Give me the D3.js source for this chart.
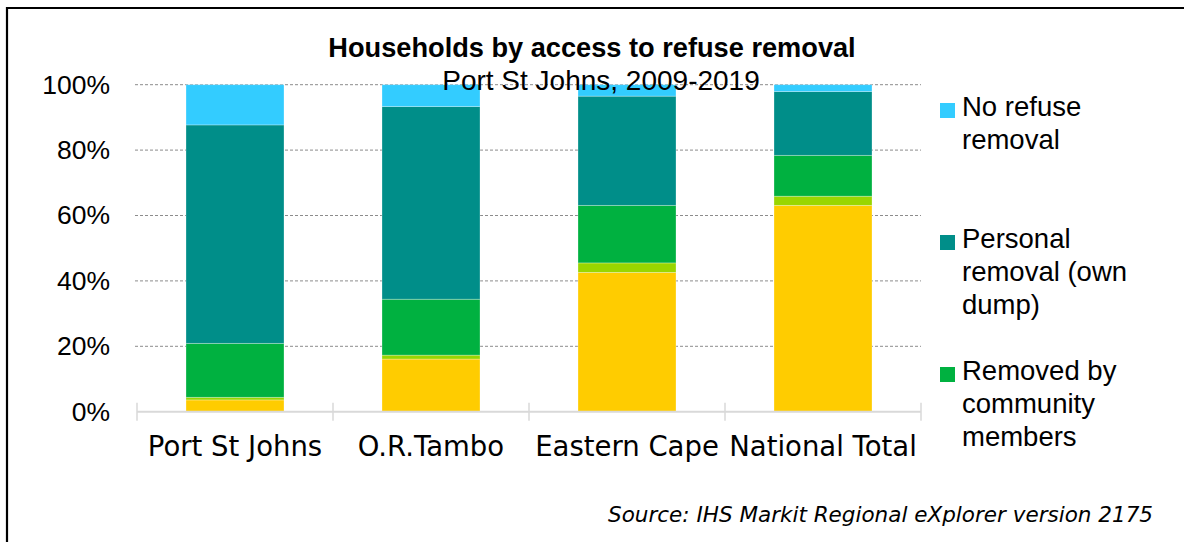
<!DOCTYPE html>
<html>
<head>
<meta charset="utf-8">
<script src="https://cdn.jsdelivr.net/npm/d3@7"></script>
<style>
  html, body { margin: 0; padding: 0; background: #fff; }
  svg { display: block; }
</style>
</head>
<body>
<svg id="chart" width="1184" height="542"></svg>
<script>
// Share of households by type of refuse removal, stacked bottom to top
const categories = ["Port St Johns", "O.R.Tambo", "Eastern Cape", "National Total"];

const seriesNames = [
  "Removed weekly by authority",
  "Removed less often than weekly by authority",
  "Removed by community members",
  "Personal removal (own dump)",
  "No refuse removal"
];

const removedWeekly     = [3.6, 16.1, 42.6, 63.1];
const removedLessOften  = [0.8,  1.2,  2.9,  2.8];
const removedCommunity  = [16.5, 17.1, 17.6, 12.5];
const personalOwnDump   = [66.8, 58.9, 33.4, 19.5];
const noRefuseRemoval   = [12.3,  6.7,  3.5,  2.1];

const yTicks = [0, 20, 40, 60, 80, 100];

const seriesColors = ["#FFCC00", "#99D600", "#00B140", "#008E89", "#33CCFF"];

// legend lists the top three series, topmost first
const legendSeries = [4, 3, 2];

const values = [removedWeekly, removedLessOften, removedCommunity, personalOwnDump, noRefuseRemoval];
const rows = categories.map((c, i) => {
  const r = { category: c };
  seriesNames.forEach((s, k) => { r[s] = values[k][i]; });
  return r;
});

const svg = d3.select("#chart");

// frame
svg.append("path")
  .attr("d", "M7,560 L7,8 L1200,8")
  .attr("fill", "none")
  .attr("stroke", "#000")
  .attr("stroke-width", 2.2);

const x = d3.scaleBand()
  .domain(categories)
  .range([137, 921])
  .paddingInner(0.5)
  .paddingOuter(0.25);

const y = d3.scaleLinear()
  .domain([0, 100])
  .range([411.7, 84.7]);

// gridlines
svg.append("g")
  .selectAll("line")
  .data(yTicks.filter(t => t > 0))
  .join("line")
  .attr("x1", 135).attr("x2", 921)
  .attr("y1", d => y(d)).attr("y2", d => y(d))
  .attr("stroke", "#8c8c8c")
  .attr("stroke-width", 1)
  .attr("stroke-dasharray", "3,2");

// y axis labels
const yAxis = d3.axisLeft(y)
  .tickValues(yTicks)
  .tickFormat(d => d + "%")
  .tickSize(0)
  .tickPadding(0);
const gy = svg.append("g").attr("transform", "translate(110,0)").call(yAxis);
gy.select(".domain").remove();
gy.selectAll("text")
  .attr("font-family", "Arial, 'Liberation Sans', sans-serif")
  .attr("font-size", 26.5)
  .attr("fill", "#000");

// stacked bars
const stack = d3.stack().keys(seriesNames);
const stacked = stack(rows);

svg.append("g")
  .selectAll("g")
  .data(stacked)
  .join("g")
  .attr("fill", (d, i) => seriesColors[i])
  .selectAll("rect")
  .data(d => d)
  .join("rect")
  .attr("x", d => x(d.data.category))
  .attr("width", x.bandwidth())
  .attr("y", d => y(d[1]))
  .attr("height", d => y(d[0]) - y(d[1]))
  .attr("stroke", "rgba(255,255,255,0.35)")
  .attr("stroke-width", 0.8);

// category axis with cross tick marks at category boundaries
const gx = svg.append("g");
gx.append("line")
  .attr("x1", 137).attr("x2", 921)
  .attr("y1", y(0)).attr("y2", y(0))
  .attr("stroke", "#d9d9d9")
  .attr("stroke-width", 2);
const boundaries = categories.map(c => x(c) - x.step() * x.paddingInner() / 2)
  .concat([x(categories[categories.length - 1]) + x.bandwidth() + x.step() * x.paddingInner() / 2]);
gx.selectAll("line.tick")
  .data(boundaries)
  .join("line")
  .attr("class", "tick")
  .attr("x1", d => d).attr("x2", d => d)
  .attr("y1", y(0) - 9).attr("y2", y(0) + 9)
  .attr("stroke", "#d9d9d9")
  .attr("stroke-width", 1.5);
gx.selectAll("text")
  .data(categories)
  .join("text")
  .attr("x", d => x(d) + x.bandwidth() / 2)
  .attr("y", 456)
  .attr("text-anchor", "middle")
  .attr("font-family", "Verdana, 'DejaVu Sans', sans-serif")
  .attr("font-size", 27.5)
  .attr("fill", "#000")
  .text(d => d);

// titles
svg.append("text")
  .attr("x", 592).attr("y", 57)
  .attr("text-anchor", "middle")
  .attr("font-family", "Arial, 'Liberation Sans', sans-serif")
  .attr("font-weight", "bold")
  .attr("font-size", 27.2)
  .attr("fill", "#000")
  .text("Households by access to refuse removal");

svg.append("text")
  .attr("x", 601).attr("y", 90)
  .attr("text-anchor", "middle")
  .attr("font-family", "Arial, 'Liberation Sans', sans-serif")
  .attr("font-size", 28)
  .attr("fill", "#000")
  .text("Port St Johns, 2009-2019");

// legend
const legend = svg.append("g").attr("transform", "translate(940,0)");
const lineH = 33;
const maxW = 175;
legendSeries.forEach((k, i) => {
  const top = 116 + i * lineH * 4;
  legend.append("rect")
    .attr("x", 0).attr("y", top - 13)
    .attr("width", 15).attr("height", 15)
    .attr("fill", seriesColors[k]);
  const t = legend.append("text")
    .attr("x", 22).attr("y", top)
    .attr("font-family", "Arial, 'Liberation Sans', sans-serif")
    .attr("font-size", 27.5)
    .attr("fill", "#000");
  // word wrap within the legend column
  const words = seriesNames[k].split(" ");
  let line = [];
  let tspan = t.append("tspan").attr("x", 22).attr("dy", 0);
  words.forEach(w => {
    line.push(w);
    tspan.text(line.join(" "));
    if (tspan.node().getComputedTextLength() > maxW && line.length > 1) {
      line.pop();
      tspan.text(line.join(" "));
      line = [w];
      tspan = t.append("tspan").attr("x", 22).attr("dy", lineH).text(w);
    }
  });
});

// source note
svg.append("text")
  .attr("x", 1153).attr("y", 522)
  .attr("text-anchor", "end")
  .attr("font-family", "Verdana, 'DejaVu Sans', sans-serif")
  .attr("font-style", "italic")
  .attr("font-size", 21.5)
  .attr("fill", "#000")
  .text("Source: IHS Markit Regional eXplorer version 2175");
</script>
</body>
</html>
